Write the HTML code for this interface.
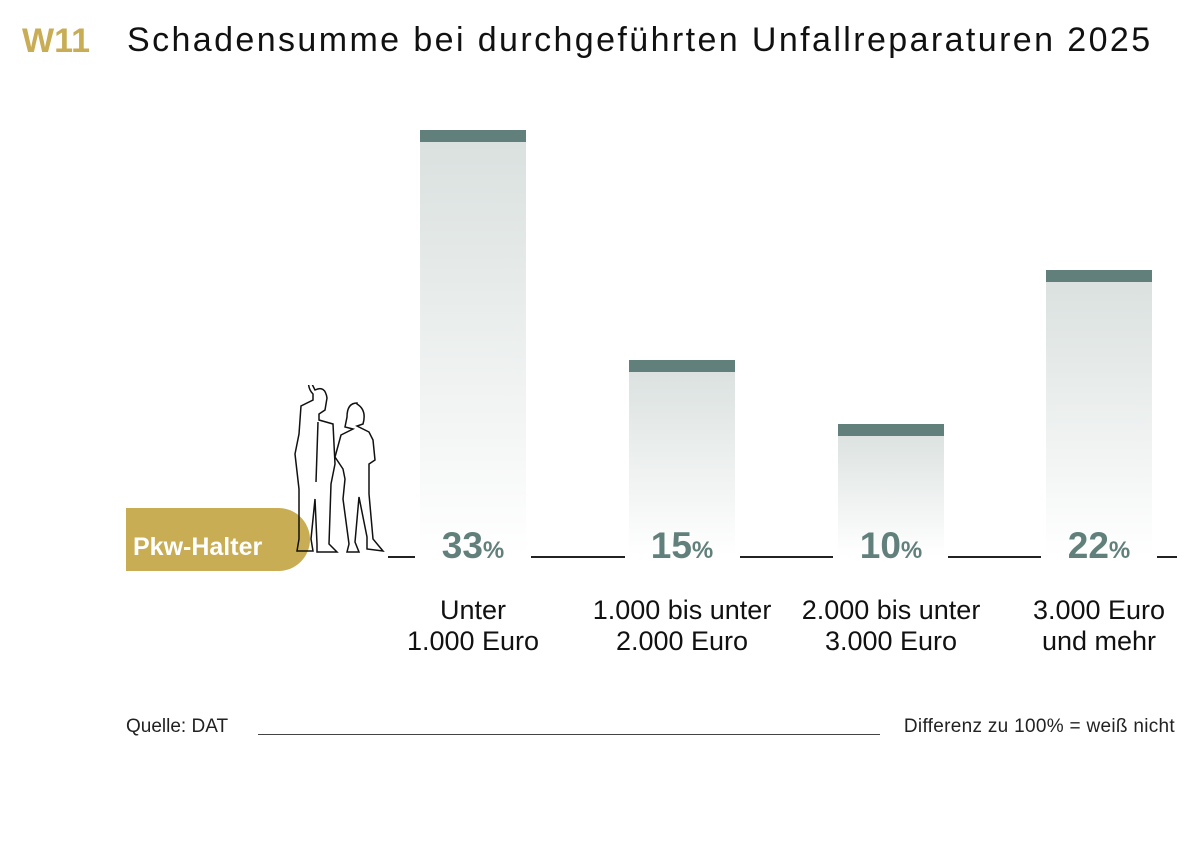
<!DOCTYPE html>
<html><head><meta charset="utf-8"><style>
body{margin:0;width:1200px;height:842px;background:#fff;position:relative;overflow:hidden;font-family:"Liberation Sans",sans-serif}
.a{position:absolute}
.bar{position:absolute;width:106px;bottom:286px;background:linear-gradient(#d9e0de,#fff)}
.bar:before{content:"";position:absolute;left:0;right:0;top:0;height:12px;background:#62807b}
.pct{position:absolute;width:106px;text-align:center;top:525px;font-weight:bold;font-size:37px;color:#62807b}
.pct span{font-size:24px}
.ln{position:absolute;top:556px;height:1.5px;background:#222}
.cat{position:absolute;width:230px;text-align:center;top:595px;font-size:27px;line-height:31px;color:#111}
</style></head><body>
<div class="a" style="left:22px;top:22px;font-size:34px;font-weight:bold;color:#c9ad55">W11</div>
<div class="a" style="left:127px;top:21px;font-size:34px;letter-spacing:2.4px;color:#111">Schadensumme bei durchgeführten Unfallreparaturen 2025</div>
<div class="bar" style="left:420px;top:130px"></div>
<div class="bar" style="left:629px;top:360px"></div>
<div class="bar" style="left:838px;top:424px"></div>
<div class="bar" style="left:1046px;top:270px"></div>
<div class="pct" style="left:420px">33<span>%</span></div>
<div class="pct" style="left:629px">15<span>%</span></div>
<div class="pct" style="left:838px">10<span>%</span></div>
<div class="pct" style="left:1046px">22<span>%</span></div>
<div class="ln" style="left:388px;width:27px"></div>
<div class="ln" style="left:531px;width:94px"></div>
<div class="ln" style="left:740px;width:93px"></div>
<div class="ln" style="left:948px;width:93px"></div>
<div class="ln" style="left:1157px;width:20px"></div>
<div class="a" style="left:126px;top:508px;width:184px;height:63px;background:#c9ad55;border-radius:0 32px 32px 0"></div>
<div class="a" style="left:133px;top:533px;font-size:25px;font-weight:bold;color:#fff">Pkw-Halter</div>
<svg class="a" style="left:285px;top:385px" width="110" height="175" viewBox="0 0 110 175" fill="none" stroke="#111" stroke-width="1.5">
<path d="M30 5 q10 -5 12 8 l-2 12 l-6 4 l0 6 l14 4 l2 40 l-4 20 l-2 60 l8 8 l-20 0 l0 -8 l-2 -45 l-4 40 l2 12 l-16 0 l2 -12 l0 -50 l-4 -35 l4 -20 l2 -28 l12 -6 l0 -6 q-6 -6 -4 -16z"/>
<path d="M33 37 l-2 60"/>
<path d="M72 18 q-10 0 -10 14 l-2 10 l8 2 l-12 6 l-6 22 l8 12 l2 10 l-2 20 l6 45 l-2 8 l12 0 l-4 -10 l4 -45 l8 40 l0 12 l16 2 l-10 -12 l-4 -45 l0 -30 l6 -4 l-2 -20 l-4 -8 l-12 -6 l6 -2 q4 -14 -6 -20z"/>
</svg>
<div class="cat" style="left:358px">Unter<br>1.000 Euro</div>
<div class="cat" style="left:567px">1.000 bis unter<br>2.000 Euro</div>
<div class="cat" style="left:776px">2.000 bis unter<br>3.000 Euro</div>
<div class="cat" style="left:984px">3.000 Euro<br>und mehr</div>
<div class="a" style="left:126px;top:716px;font-size:19px;color:#222">Quelle: DAT</div>
<div class="a" style="left:258px;top:734px;width:622px;height:1px;background:#444"></div>
<div class="a" style="right:25px;top:716px;font-size:19px;letter-spacing:0.3px;color:#222">Differenz zu 100% = weiß nicht</div>
</body></html>
